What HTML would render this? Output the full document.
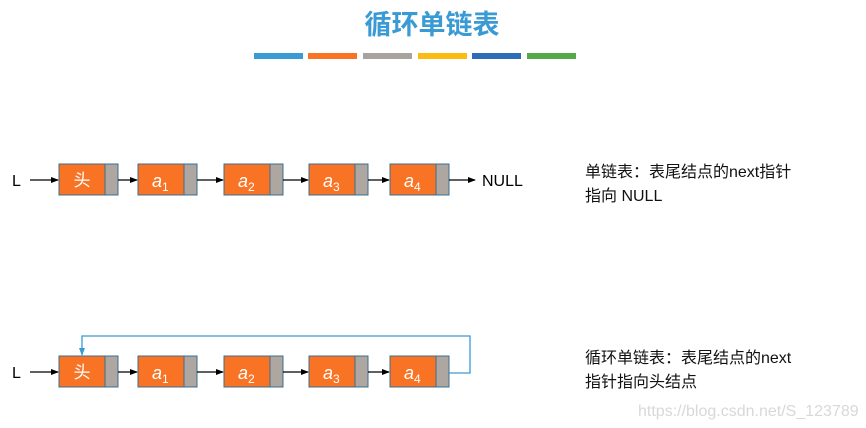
<!DOCTYPE html>
<html><head><meta charset="utf-8"><style>
html,body{margin:0;padding:0;background:#fff;}
svg{display:block;}
text{font-family:"Liberation Sans","Noto Sans CJK SC",sans-serif;}
</style></head><body>
<svg width="866" height="428" viewBox="0 0 866 428" xmlns="http://www.w3.org/2000/svg">
<defs>
<marker id="ah" markerWidth="8" markerHeight="8" refX="7" refY="4" orient="auto" markerUnits="userSpaceOnUse">
<path d="M0,1 L8,4 L0,7 Z" fill="#000"/></marker>
<marker id="ab" markerWidth="8" markerHeight="8" refX="7" refY="4" orient="auto" markerUnits="userSpaceOnUse">
<path d="M0,1 L8,4 L0,7 Z" fill="#3a9ad4"/></marker>
</defs>
<text x="432" y="34" text-anchor="middle" font-size="27" font-weight="bold" fill="#3a9ad4">循环单链表</text>
<rect x="254" y="53" width="49" height="6" fill="#3a9ad4"/>
<rect x="308" y="53" width="49" height="6" fill="#f87424"/>
<rect x="363" y="53" width="49" height="6" fill="#a9a39e"/>
<rect x="418" y="53" width="49" height="6" fill="#fcbb10"/>
<rect x="472" y="53" width="49" height="6" fill="#2e6cb8"/>
<rect x="527" y="53" width="49" height="6" fill="#55a949"/>

<g id="row1">
<text x="12" y="186" font-size="16" fill="#000">L</text>
<line x1="30" y1="180" x2="58" y2="180" stroke="#000" stroke-width="1.3" marker-end="url(#ah)"/>
<rect x="59" y="164" width="46" height="31" fill="#f87424" stroke="#3d6c8e" stroke-width="1"/>
<rect x="105" y="164" width="13" height="31" fill="#aea6a0" stroke="#3d6c8e" stroke-width="1"/>
<text x="82" y="186" text-anchor="middle" font-size="17" fill="#fff">头</text>
<line x1="118" y1="180" x2="137" y2="180" stroke="#000" stroke-width="1.3" marker-end="url(#ah)"/>
<rect x="138" y="164" width="46" height="31" fill="#f87424" stroke="#3d6c8e"/>
<rect x="184" y="164" width="13" height="31" fill="#aea6a0" stroke="#3d6c8e"/>
<text x="152" y="187" font-size="18" font-style="italic" fill="#fff">a<tspan font-size="12" dy="4" font-style="normal">1</tspan></text>
<line x1="197" y1="180" x2="223" y2="180" stroke="#000" stroke-width="1.3" marker-end="url(#ah)"/>
<rect x="224" y="164" width="46" height="31" fill="#f87424" stroke="#3d6c8e"/>
<rect x="270" y="164" width="13" height="31" fill="#aea6a0" stroke="#3d6c8e"/>
<text x="238" y="187" font-size="18" font-style="italic" fill="#fff">a<tspan font-size="12" dy="4" font-style="normal">2</tspan></text>
<line x1="283" y1="180" x2="308" y2="180" stroke="#000" stroke-width="1.3" marker-end="url(#ah)"/>
<rect x="309" y="164" width="46" height="31" fill="#f87424" stroke="#3d6c8e"/>
<rect x="355" y="164" width="13" height="31" fill="#aea6a0" stroke="#3d6c8e"/>
<text x="323" y="187" font-size="18" font-style="italic" fill="#fff">a<tspan font-size="12" dy="4" font-style="normal">3</tspan></text>
<line x1="368" y1="180" x2="389" y2="180" stroke="#000" stroke-width="1.3" marker-end="url(#ah)"/>
<rect x="390" y="164" width="46" height="31" fill="#f87424" stroke="#3d6c8e"/>
<rect x="436" y="164" width="13" height="31" fill="#aea6a0" stroke="#3d6c8e"/>
<text x="404" y="187" font-size="18" font-style="italic" fill="#fff">a<tspan font-size="12" dy="4" font-style="normal">4</tspan></text>
</g>
<line x1="449" y1="180" x2="475" y2="180" stroke="#000" stroke-width="1.3" marker-end="url(#ah)"/>
<text x="482" y="186" font-size="16" fill="#000">NULL</text>
<text x="585" y="177" font-size="16" fill="#111">单链表：表尾结点的next指针</text>
<text x="585" y="201" font-size="16" fill="#111">指向 NULL</text>

<use href="#row1" y="192"/>
<polyline points="449,373 470,373 470,336 82,336 82,355" fill="none" stroke="#3a9ad4" stroke-width="1.3" marker-end="url(#ab)"/>
<text x="585" y="363" font-size="16" fill="#111">循环单链表：表尾结点的next</text>
<text x="585" y="387" font-size="16" fill="#111">指针指向头结点</text>
<text x="638" y="416" font-size="16" fill="#d8d8d8">https://blog.csdn.net/S_123789</text>
</svg>
</body></html>
